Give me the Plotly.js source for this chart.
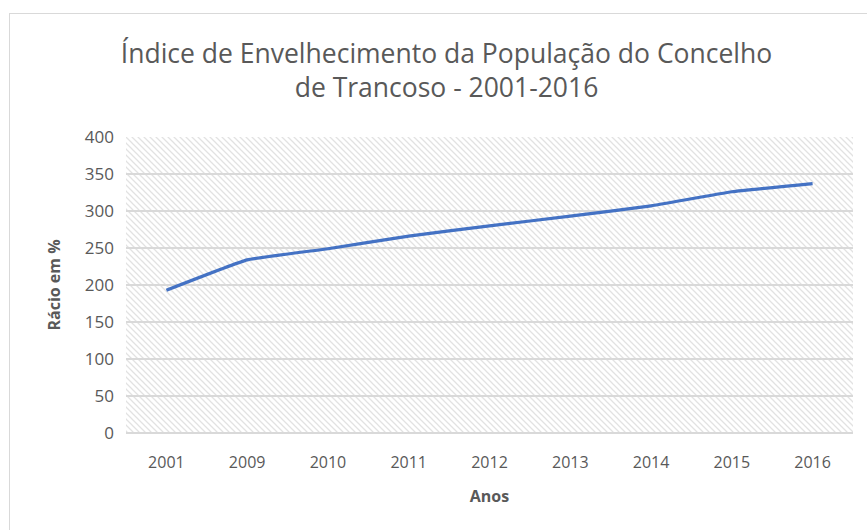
<!DOCTYPE html>
<html>
<head>
<meta charset="utf-8">
<script src="https://cdn.plot.ly/plotly-3.0.1.min.js"></script>
<style>
  html, body { margin: 0; padding: 0; background: #fff; }
  #frame { position: absolute; left: 9px; top: 13px; width: 900px; height: 600px;
           border-left: 1px solid #d9d9d9; border-top: 1px solid #d9d9d9; pointer-events: none; }
  #chart { position: absolute; left: 0; top: 0; width: 867px; height: 530px; }
</style>
</head>
<body>
<div id="chart"></div>
<div id="frame"></div>
<script>
const years = ["2001", "2009", "2010", "2011", "2012", "2013", "2014", "2015", "2016"];
const ratio = [193, 234, 249, 266, 280, 293, 307, 326, 337];
const yTicks = [0, 50, 100, 150, 200, 250, 300, 350, 400];

const W = 867, H = 530;
const margin = { l: 126, r: 14, t: 137, b: 97 };
const pw = W - margin.l - margin.r;
const ph = H - margin.t - margin.b;

const svg = '<svg xmlns="http://www.w3.org/2000/svg" width="' + pw + '" height="' + ph +
  '" viewBox="0 0 ' + pw + ' ' + ph + '">' +
  '<defs><pattern id="p" width="6" height="6" patternUnits="userSpaceOnUse">' +
  '<path d="M-1,-1 L7,7 M-4,2 L2,8 M4,-2 L10,4" stroke="#e2e2e2" stroke-width="1.3"/>' +
  '</pattern></defs><rect width="100%" height="100%" fill="#ffffff"/>' +
  '<rect width="100%" height="100%" fill="url(#p)"/></svg>';
const src = 'data:image/svg+xml;base64,' + btoa(svg);

const trace = {
  x: years, y: ratio, type: 'scatter', mode: 'lines',
  line: { color: '#4472C4', width: 3.2, shape: 'spline', smoothing: 0.3 },
  hoverinfo: 'x+y'
};

const layout = {
  width: W, height: H,
  margin: margin,
  paper_bgcolor: 'rgba(0,0,0,0)',
  plot_bgcolor: 'rgba(0,0,0,0)',
  showlegend: false,
  font: { family: 'Open Sans, sans-serif', color: '#595959' },
  title: {
    text: 'Índice de Envelhecimento da População do Concelho<br>de Trancoso - 2001-2016',
    font: { family: 'Open Sans, sans-serif', size: 26.5, color: '#595959' },
    x: 0.515, xanchor: 'center', yref: 'container', yanchor: 'middle'
  },
  xaxis: {
    type: 'category',
    range: [-0.5, 8.5],
    tickfont: { size: 16, color: '#595959' },
    showgrid: false, zeroline: false, showline: false, ticks: '',
    ticklabelstandoff: 18,
    title: { text: '<b>Anos</b>', font: { size: 16, color: '#595959' }, standoff: 18 }
  },
  yaxis: {
    range: [0, 400],
    tickvals: yTicks,
    tickfont: { size: 17, color: '#595959' },
    gridcolor: '#d9d9d9', gridwidth: 1.5,
    zeroline: true, zerolinecolor: '#d9d9d9', zerolinewidth: 1.5,
    ticks: '', ticklabelstandoff: 11,
    title: { text: '<b>Rácio em %</b>', font: { size: 16, color: '#595959' }, standoff: 20 }
  },
  images: [{
    source: src, xref: 'paper', yref: 'paper', x: 0, y: 1, sizex: 1, sizey: 1,
    xanchor: 'left', yanchor: 'top', sizing: 'stretch', layer: 'below'
  }]
};
layout.title.y = 1 - 63 / H;

Plotly.newPlot('chart', [trace], layout, { displayModeBar: false, staticPlot: true });
</script>
</body>
</html>
